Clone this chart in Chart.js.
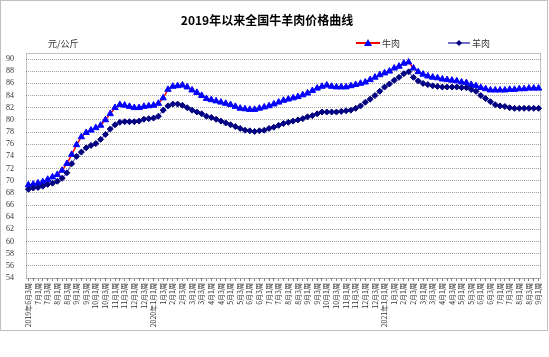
<!DOCTYPE html>
<html>
<head>
<meta charset="utf-8">
<script src="https://cdn.jsdelivr.net/npm/chart.js@4/dist/chart.umd.min.js"></script>
<style>
  html, body { margin: 0; padding: 0; background: #ffffff; }
  #c { display: block; }
</style>
</head>
<body>
<canvas id="c" width="549" height="357"></canvas>
<script>
// ---- Data ----
const chartTitle = '2019年以来全国牛羊肉价格曲线';
const unitLabel = '元/公斤';
const seriesNames = ['牛肉', '羊肉'];

// weekly categories: 2019年6月3周 ... 2021年9月1周 (4 weeks per month)
const startYear = 2019, startMonth = 6, startWeek = 3, weekCount = 107;
const weekLabels = [];
(function () {
  let y = startYear, m = startMonth, w = startWeek;
  for (let i = 0; i < weekCount; i++) {
    const showYear = (i === 0) || (m === 1 && w === 1);
    weekLabels.push((showYear ? y + '年' : '') + m + '月' + w + '周');
    w++;
    if (w > 4) { w = 1; m++; if (m > 12) { m = 1; y++; } }
  }
})();

const beefPrices = [
  69.3, 69.4, 69.6, 69.8, 70.2, 70.6, 71.0, 71.7, 72.8, 74.3,
  75.9, 77.2, 77.9, 78.3, 78.7, 79.1, 80.0, 81.0, 82.0, 82.5,
  82.4, 82.2, 82.0, 82.0, 82.2, 82.3, 82.4, 82.7, 83.6, 85.0,
  85.5, 85.6, 85.7, 85.4, 84.9, 84.5, 84.0, 83.5, 83.3, 83.1,
  82.9, 82.7, 82.5, 82.2, 81.9, 81.8, 81.7, 81.7, 81.9, 82.1,
  82.3, 82.6, 82.9, 83.2, 83.4, 83.6, 83.8, 84.1, 84.4, 84.8,
  85.2, 85.5, 85.7, 85.5, 85.4, 85.4, 85.4, 85.6, 85.8, 86.0,
  86.2, 86.6, 87.0, 87.4, 87.7, 88.0, 88.5, 88.8, 89.3, 89.5,
  88.5, 87.9, 87.5, 87.2, 87.0, 86.9, 86.7, 86.6, 86.5, 86.4,
  86.2, 86.1, 85.8, 85.6, 85.3, 85.1, 84.9, 84.9, 84.9, 84.9,
  85.0, 85.0, 85.1, 85.1, 85.2, 85.2, 85.2
];

const muttonPrices = [
  68.6, 68.8, 68.9, 69.1, 69.4, 69.6, 69.9, 70.4, 71.3, 72.8,
  74.0, 74.7, 75.4, 75.8, 76.1, 76.8, 77.6, 78.5, 79.2, 79.6,
  79.7, 79.7, 79.7, 79.8, 80.1, 80.2, 80.3, 80.6, 81.6, 82.3,
  82.6, 82.6, 82.4, 82.0, 81.6, 81.3, 81.0, 80.6, 80.4, 80.1,
  79.8, 79.5, 79.2, 78.9, 78.6, 78.3, 78.2, 78.1, 78.2, 78.3,
  78.6, 78.8, 79.1, 79.4, 79.6, 79.8, 80.0, 80.2, 80.5, 80.7,
  81.0, 81.3, 81.3, 81.3, 81.3, 81.4, 81.5, 81.6, 81.9, 82.3,
  82.9, 83.4, 84.0, 84.7, 85.4, 85.9, 86.5, 87.0, 87.6, 87.9,
  87.0, 86.4, 86.0, 85.8, 85.6, 85.5, 85.4, 85.4, 85.4, 85.4,
  85.3, 85.3, 85.0, 84.7, 84.0, 83.5, 83.0, 82.5, 82.3, 82.2,
  82.0, 81.9, 81.9, 81.9, 81.9, 81.9, 81.9
];

const yMin = 54, yMax = 91, yStep = 2;

// ---- Styles ----
const beefLine = '#FF0000', beefMarker = '#0000FF';
const muttonLine = '#7070C8', muttonMarker = '#000080';

const decorPlugin = {
  id: 'decor',
  beforeDatasetsDraw(chart) {
    const ctx = chart.ctx, a = chart.chartArea;
    ctx.save();
    ctx.strokeStyle = '#808080';
    ctx.lineWidth = 1;
    ctx.setLineDash([1, 1]);
    ctx.strokeRect(Math.round(a.left) + 0.5, Math.round(a.top) + 0.5,
                   Math.round(a.right - a.left) - 1, Math.round(a.bottom - a.top));
    ctx.restore();
  },
  afterDraw(chart) {
    const ctx = chart.ctx;
    ctx.save();
    // outer frame
    ctx.strokeStyle = '#808080';
    ctx.lineWidth = 1;
    ctx.setLineDash([1, 1]);
    ctx.strokeRect(0.5, 0.5, 547, 330);
    ctx.setLineDash([]);
    // title
    ctx.fillStyle = '#000000';
    ctx.font = 'bold 12px "Noto Sans CJK SC", sans-serif';
    ctx.textAlign = 'center';
    ctx.textBaseline = 'middle';
    ctx.fillText(chartTitle, 267, 20);
    // unit
    ctx.font = '9px "Noto Sans CJK SC", sans-serif';
    ctx.fillStyle = '#333333';
    ctx.textAlign = 'left';
    ctx.fillText(unitLabel, 48, 44);
    // legend: beef
    const ly = 43;
    ctx.strokeStyle = beefLine; ctx.lineWidth = 2;
    ctx.beginPath(); ctx.moveTo(356, ly); ctx.lineTo(380, ly); ctx.stroke();
    ctx.fillStyle = beefMarker;
    ctx.beginPath(); ctx.moveTo(368, ly - 4); ctx.lineTo(372, ly + 3); ctx.lineTo(364, ly + 3); ctx.closePath(); ctx.fill();
    ctx.fillStyle = '#333333';
    ctx.fillText(seriesNames[0], 382, ly + 1);
    // legend: mutton
    ctx.strokeStyle = muttonLine; ctx.lineWidth = 2;
    ctx.beginPath(); ctx.moveTo(448, ly); ctx.lineTo(470, ly); ctx.stroke();
    ctx.fillStyle = muttonMarker;
    ctx.beginPath(); ctx.moveTo(459, ly - 3); ctx.lineTo(462, ly); ctx.lineTo(459, ly + 3); ctx.lineTo(456, ly); ctx.closePath(); ctx.fill();
    ctx.fillStyle = '#333333';
    ctx.fillText(seriesNames[1], 472, ly + 1);
    ctx.restore();
  }
};

new Chart(document.getElementById('c'), {
  type: 'line',
  data: {
    labels: weekLabels,
    datasets: [
      {
        label: seriesNames[1],
        data: muttonPrices,
        borderColor: muttonLine,
        borderWidth: 1.2,
        pointStyle: 'rectRot',
        pointRadius: 3,
        pointBackgroundColor: muttonMarker,
        pointBorderColor: muttonMarker,
        pointBorderWidth: 1,
        tension: 0
      },
      {
        label: seriesNames[0],
        data: beefPrices,
        borderColor: beefLine,
        borderWidth: 1.5,
        pointStyle: 'triangle',
        pointRadius: 3.7,
        pointBackgroundColor: beefMarker,
        pointBorderColor: beefMarker,
        pointBorderWidth: 1,
        tension: 0
      }
    ]
  },
  options: {
    responsive: false,
    animation: false,
    layout: { padding: { left: 0, right: 8, top: 53, bottom: 26 } },
    plugins: { legend: { display: false }, title: { display: false }, tooltip: { enabled: false } },
    scales: {
      x: {
        offset: true,
        grid: { display: true, drawOnChartArea: false, drawTicks: true, tickLength: 3, color: '#808080' },
        border: { display: false },
        ticks: {
          autoSkip: false, maxRotation: 90, minRotation: 90,
          font: { size: 7, family: '"Noto Sans CJK SC", sans-serif' },
          color: '#333333', padding: 2,
          callback: function (v, i) { return i % 2 === 0 ? weekLabels[i] : ''; }
        },
        afterFit: function (s) { s.height = 53; }
      },
      y: {
        min: yMin, max: yMax,
        grid: { color: '#a0a0a0', drawTicks: false, lineWidth: 1 },
        border: { display: false, dash: [1, 1] },
        ticks: {
          stepSize: yStep, includeBounds: false, autoSkip: false,
          font: { size: 8, family: '"Liberation Serif", serif' },
          color: '#333333', padding: 12
        },
        afterFit: function (s) { s.width = 26; }
      }
    }
  },
  plugins: [decorPlugin]
});
</script>
</body>
</html>
